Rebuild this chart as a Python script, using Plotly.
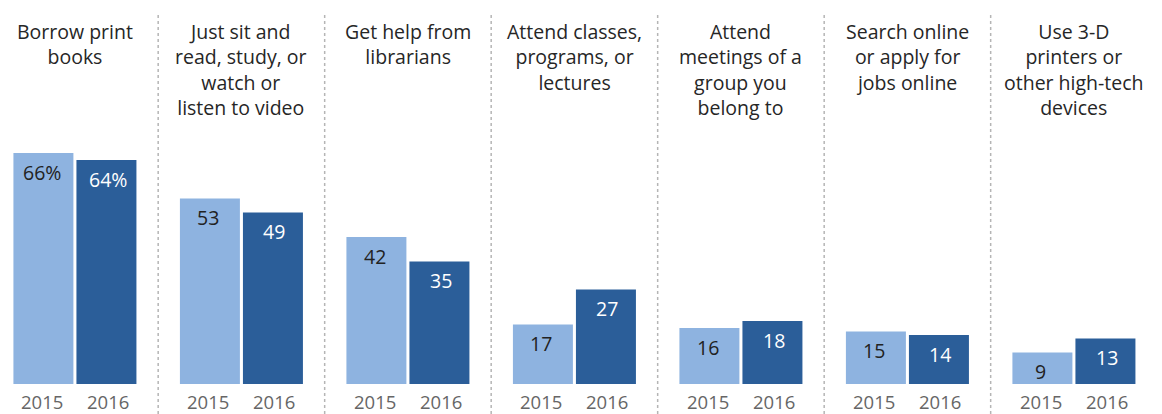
import plotly.graph_objects as go

# Library activities, share of users, 2015 vs 2016
categories = [
    "Borrow print<br>books",
    "Just sit and<br>read, study, or<br>watch or<br>listen to video",
    "Get help from<br>librarians",
    "Attend classes,<br>programs, or<br>lectures",
    "Attend<br>meetings of a<br>group you<br>belong to",
    "Search online<br>or apply for<br>jobs online",
    "Use 3-D<br>printers or<br>other high-tech<br>devices",
]
values_2015 = [66, 53, 42, 17, 16, 15, 9]
values_2016 = [64, 49, 35, 27, 18, 14, 13]
value_labels_2015 = ["66%", "53", "42", "17", "16", "15", "9"]
value_labels_2016 = ["64%", "49", "35", "27", "18", "14", "13"]
years = ["2015", "2016"]

LIGHT = "#8EB3E0"
DARK = "#2B5E99"
FONT = "Open Sans"

x = list(range(len(categories)))

fig = go.Figure()
fig.add_trace(go.Bar(x=x, y=values_2015, marker=dict(color=LIGHT, line=dict(width=0)),
                     name=years[0], hoverinfo="skip"))
fig.add_trace(go.Bar(x=x, y=values_2016, marker=dict(color=DARK, line=dict(width=0)),
                     name=years[1], hoverinfo="skip"))

OFF = 0.198
annotations = []
for i, cat in enumerate(categories):
    # category heading
    annotations.append(dict(x=i, y=1, xref="x", yref="paper", text=cat, showarrow=False,
                            yanchor="top", yshift=-16, align="center",
                            font=dict(family=FONT, size=19.5, color="#262626")))
    for j, (vals, labs, col) in enumerate([(values_2015, value_labels_2015, "#222222"),
                                           (values_2016, value_labels_2016, "#FFFFFF")]):
        xp = i - OFF if j == 0 else i + OFF
        annotations.append(dict(x=xp, y=vals[i], xref="x", yref="y", text=labs[i],
                                showarrow=False, yanchor="middle", yshift=-19,
                                font=dict(family=FONT, size=19.5, color=col)))
        annotations.append(dict(x=xp, y=0, xref="x", yref="y", text=years[j],
                                showarrow=False, yanchor="middle", yshift=-17,
                                borderpad=0,
                                font=dict(family=FONT, size=18.5, color="#666666")))

# dotted separators between groups
shapes = []
for i in range(len(categories) - 1):
    shapes.append(dict(type="line", xref="x", yref="paper", x0=i + 0.5, x1=i + 0.5,
                       y0=-30 / 384, y1=(384 - 14) / 384,
                       line=dict(color="#B5B5B5", width=1.5, dash="dot")))

fig.update_layout(
    width=1162, height=414,
    margin=dict(l=0, r=0, t=0, b=30),
    plot_bgcolor="white", paper_bgcolor="white",
    barmode="group", bargap=0.243, bargroupgap=0.048,
    showlegend=False,
    xaxis=dict(range=[-0.45, 6.529], visible=False, fixedrange=True),
    yaxis=dict(range=[0, 384 / 3.5], visible=False, fixedrange=True),
    annotations=annotations, shapes=shapes,
)

fig.write_html("out.html", config={"displayModeBar": False})
